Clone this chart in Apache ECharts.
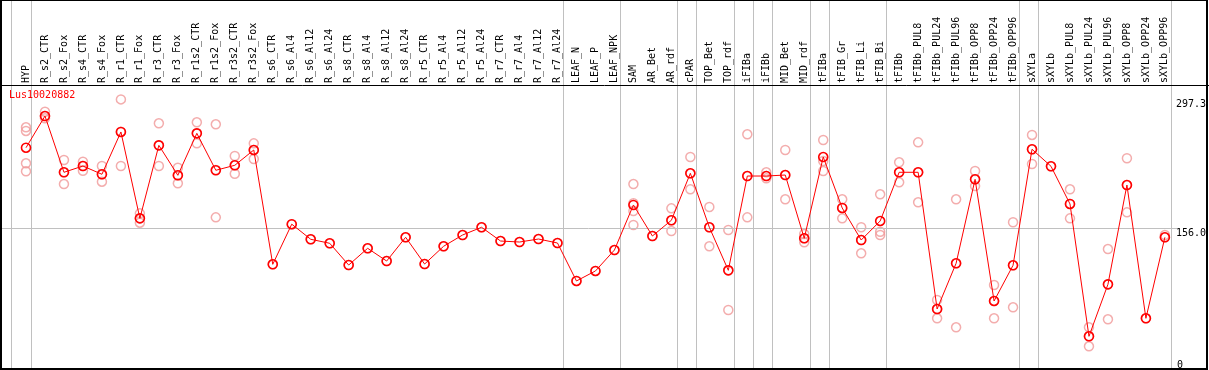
<!DOCTYPE html>
<html><head><meta charset="utf-8">
<script src="https://cdn.jsdelivr.net/npm/echarts@6/dist/echarts.min.js"></script>
<style>html,body{margin:0;padding:0;background:#fff}#c{width:1209px;height:370px}</style>
</head><body><div id="c"></div>
<script>
const chartTitle = 'Lus10020882';
const categories = ['HYP','R_s2_CTR','R_s2_Fox','R_s4_CTR','R_s4_Fox','R_r1_CTR','R_r1_Fox','R_r3_CTR','R_r3_Fox','R_r1s2_CTR','R_r1s2_Fox','R_r3s2_CTR','R_r3s2_Fox','R_s6_CTR','R_s6_Al4','R_s6_Al12','R_s6_Al24','R_s8_CTR','R_s8_Al4','R_s8_Al12','R_s8_Al24','R_r5_CTR','R_r5_Al4','R_r5_Al12','R_r5_Al24','R_r7_CTR','R_r7_Al4','R_r7_Al12','R_r7_Al24','LEAF_N','LEAF_P','LEAF_NPK','SAM','AR_Bet','AR_rdf','cPAR','TOP_Bet','TOP_rdf','iFIBa','iFIBb','MID_Bet','MID_rdf','tFIBa','tFIB_Gr','tFIB_Li','tFIB_Bi','tFIBb','tFIBb_PUL8','tFIBb_PUL24','tFIBb_PUL96','tFIBb_OPP8','tFIBb_OPP24','tFIBb_OPP96','sXYLa','sXYLb','sXYLb_PUL8','sXYLb_PUL24','sXYLb_PUL96','sXYLb_OPP8','sXYLb_OPP24','sXYLb_OPP96'];
const means = [244.2,279.0,217.2,224.1,215.0,261.5,166.6,246.8,213.9,260.0,219.4,224.9,241.7,116.1,160.2,143.6,139.2,115.3,133.7,119.7,145.8,116.4,135.9,148.3,156.8,141.7,140.6,143.9,139.5,97.8,108.8,131.8,181.3,147.2,164.5,216.1,156.8,109.5,213.1,213.1,214.2,144.7,234.0,178.0,142.8,163.7,217.2,217.2,67.0,117.2,209.5,75.8,115.0,242.5,223.8,182.4,37.0,94.1,203.2,56.8,145.8];
const replicates = [
  [266.6,262.6,227.1,218.3],[283.8,279.0,276.5],[230.7,217.2,204.3],[228.8,224.1,218.9],[224.1,215.0,206.9],
  [297.3,261.8,224.1],[172.1,166.6,161.8],[271.0,246.8,224.1],[222.2,213.9,205.1],[272.1,260.0,249.0],
  [269.9,219.7,167.7],[235.1,224.9,215.6],[249.0,241.7,231.8],[116.1],[160.2],
  [143.6],[139.2],[115.3],[133.7],[119.7],
  [145.8],[116.4],[135.9],[148.3],[156.8],
  [141.7],[140.6],[143.9],[139.5],[97.8],
  [108.8],[131.8],[204.3,183.1,174.7,159.3],[147.2],[177.6,164.5,152.7],
  [234.0,216.1,198.5],[179.1,156.8,135.9],[153.8,109.5,65.9],[258.9,213.1,167.7],[217.2,213.1,210.6],
  [241.7,214.2,187.5],[149.4,144.7,140.3],[252.7,229.6,218.6],[187.5,178.0,166.6],[156.8,142.8,128.2],
  [193.0,151.9,148.3],[228.2,217.2,206.2],[250.1,217.2,184.2],[76.9,67.0,56.8],[187.5,117.2,46.9],
  [218.6,209.5,202.1],[93.4,75.8,56.8],[162.3,115.0,68.9],[258.2,242.5,226.3],[223.8],
  [198.5,182.4,166.6],[46.9,37.0,26.0],[132.9,94.1,55.7],[232.6,203.2,173.2],[56.8],
  [148.3,145.8]
];
const yTickLabels = [0, 156.0, 297.3];
const refLineValue = 156.0;
const groupEnds = ['HYP','R_r7_Al24','LEAF_NPK','AR_rdf','cPAR','TOP_rdf','iFIBa','iFIBb','MID_rdf','tFIBa','tFIB_Bi','tFIBb_OPP96','sXYLa','sXYLb_OPP96'];

// layout
const W = 1209, H = 370, FIRST_X = 26, STEP = 19, PLOT_TOP = 85, Y_TOP = 313.1;
const lastX = FIRST_X + STEP * (categories.length - 1);
const pxToIdx = px => (px - FIRST_X) / STEP;
const FONT = 'DejaVu Sans Mono';

const sepData = [{xAxis: -0.8}].concat(groupEnds.map(c => ({xAxis: categories.indexOf(c) + 0.25})));
const repData = [];
replicates.forEach((arr, i) => arr.forEach(v => repData.push([i, v])));

const chart = echarts.init(document.getElementById('c'), null, {renderer: 'canvas'});
chart.setOption({
  animation: false,
  backgroundColor: '#fff',
  title: {text: chartTitle, left: 9, top: 90, padding: 0,
    textStyle: {color: '#ff0000', fontSize: 10, fontWeight: 'normal', fontFamily: FONT}},
  grid: [
    {left: 0, right: 0, top: 0, bottom: 0},
    {left: FIRST_X, right: W - lastX, top: PLOT_TOP, bottom: 0}
  ],
  xAxis: [
    {gridIndex: 0, type: 'value', min: pxToIdx(0), max: pxToIdx(W), show: false},
    {gridIndex: 1, type: 'category', position: 'top', boundaryGap: false, data: categories,
      axisLine: {show: false}, axisTick: {show: false}, splitLine: {show: false},
      axisLabel: {rotate: 90, interval: 0, margin: 2, fontSize: 10, fontFamily: FONT, color: '#000'}}
  ],
  yAxis: [
    {gridIndex: 0, type: 'value', min: 0, max: Y_TOP * H / (H - PLOT_TOP), show: false},
    {gridIndex: 1, type: 'value', position: 'right', min: 0, max: Y_TOP,
      axisLine: {show: false}, axisTick: {show: false}, splitLine: {show: false},
      axisLabel: {customValues: yTickLabels.filter(v => v > 0), formatter: v => Number(v).toFixed(1),
        margin: 11, align: 'left', verticalAlign: 'top', fontSize: 10, fontFamily: FONT, color: '#000'}},
    {gridIndex: 1, type: 'value', position: 'right', min: 0, max: Y_TOP,
      axisLine: {show: false}, axisTick: {show: false}, splitLine: {show: false},
      axisLabel: {customValues: yTickLabels.filter(v => v === 0), formatter: v => String(v),
        margin: 12, align: 'left', verticalAlign: 'bottom', fontSize: 10, fontFamily: FONT, color: '#000'}}
  ],
  graphic: [
    {type: 'rect', shape: {x: 1, y: 0, width: W - 3, height: H - 1}, style: {fill: null, stroke: '#000', lineWidth: 2}, z: 100, silent: true},
    {type: 'line', shape: {x1: 0, y1: PLOT_TOP + 0.5, x2: W, y2: PLOT_TOP + 0.5}, style: {stroke: '#000', lineWidth: 1}, z: 100, silent: true}
  ],
  series: [
    {type: 'line', xAxisIndex: 0, yAxisIndex: 0, data: [], z: 1, silent: true,
      markLine: {silent: true, symbol: 'none', label: {show: false},
        lineStyle: {color: '#c0c0c0', width: 1, type: 'solid'},
        data: sepData.concat([[{coord: [pxToIdx(0), refLineValue]}, {coord: [pxToIdx(1177), refLineValue]}]])}},
    {type: 'scatter', xAxisIndex: 1, yAxisIndex: 1, data: repData, symbol: 'circle', symbolSize: 9, z: 3,
      itemStyle: {color: 'rgba(0,0,0,0)', borderColor: '#f09898', borderWidth: 1.5}},
    {type: 'line', xAxisIndex: 1, yAxisIndex: 1, data: means, symbol: 'circle', symbolSize: 9, z: 5,
      showAllSymbol: true,
      lineStyle: {color: '#ff0000', width: 1},
      itemStyle: {color: 'rgba(0,0,0,0)', borderColor: '#ff0000', borderWidth: 1.6}}
  ]
});
</script></body></html>
